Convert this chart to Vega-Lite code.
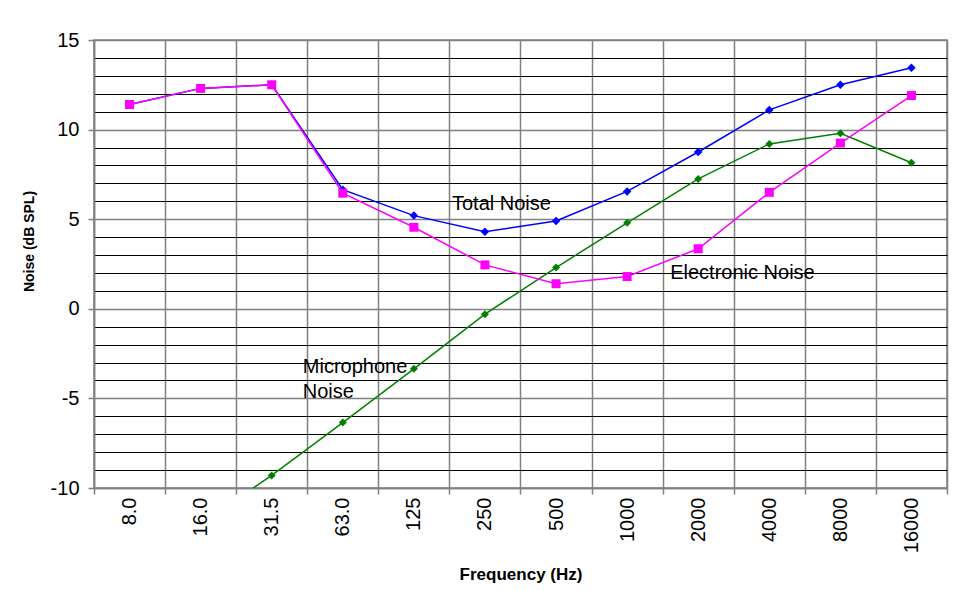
{
  "$schema": "https://vega.github.io/schema/vega-lite/v6.json",
  "width": 853,
  "height": 448,
  "autosize": {"type": "none"},
  "padding": {"left": 94, "top": 40, "right": 8, "bottom": 102},
  "background": "white",
  "config": {
    "font": "Liberation Sans",
    "view": {"stroke": "#808080", "strokeWidth": 1.5}
  },
  "datasets": {
    "noise": [
      {"freq": "8.0", "series": "Microphone Noise", "value": -15.0},
      {"freq": "16.0", "series": "Microphone Noise", "value": -12.0},
      {"freq": "31.5", "series": "Microphone Noise", "value": -9.3},
      {"freq": "63.0", "series": "Microphone Noise", "value": -6.35},
      {"freq": "125", "series": "Microphone Noise", "value": -3.35},
      {"freq": "250", "series": "Microphone Noise", "value": -0.3},
      {"freq": "500", "series": "Microphone Noise", "value": 2.3},
      {"freq": "1000", "series": "Microphone Noise", "value": 4.8},
      {"freq": "2000", "series": "Microphone Noise", "value": 7.25},
      {"freq": "4000", "series": "Microphone Noise", "value": 9.2},
      {"freq": "8000", "series": "Microphone Noise", "value": 9.8},
      {"freq": "16000", "series": "Microphone Noise", "value": 8.15},
      {"freq": "8.0", "series": "Total Noise", "value": 11.4},
      {"freq": "16.0", "series": "Total Noise", "value": 12.3},
      {"freq": "31.5", "series": "Total Noise", "value": 12.5},
      {"freq": "63.0", "series": "Total Noise", "value": 6.65},
      {"freq": "125", "series": "Total Noise", "value": 5.2},
      {"freq": "250", "series": "Total Noise", "value": 4.3},
      {"freq": "500", "series": "Total Noise", "value": 4.9},
      {"freq": "1000", "series": "Total Noise", "value": 6.55},
      {"freq": "2000", "series": "Total Noise", "value": 8.75},
      {"freq": "4000", "series": "Total Noise", "value": 11.1},
      {"freq": "8000", "series": "Total Noise", "value": 12.5},
      {"freq": "16000", "series": "Total Noise", "value": 13.45},
      {"freq": "8.0", "series": "Electronic Noise", "value": 11.4},
      {"freq": "16.0", "series": "Electronic Noise", "value": 12.3},
      {"freq": "31.5", "series": "Electronic Noise", "value": 12.5},
      {"freq": "63.0", "series": "Electronic Noise", "value": 6.45},
      {"freq": "125", "series": "Electronic Noise", "value": 4.55},
      {"freq": "250", "series": "Electronic Noise", "value": 2.45},
      {"freq": "500", "series": "Electronic Noise", "value": 1.4},
      {"freq": "1000", "series": "Electronic Noise", "value": 1.8},
      {"freq": "2000", "series": "Electronic Noise", "value": 3.35},
      {"freq": "4000", "series": "Electronic Noise", "value": 6.5},
      {"freq": "8000", "series": "Electronic Noise", "value": 9.25},
      {"freq": "16000", "series": "Electronic Noise", "value": 11.9}
    ],
    "labels": [
      {"freq": "250", "value": 5.85, "label": "Total Noise"},
      {"freq": "2000", "value": 2.0, "label": "Electronic Noise"},
      {"freq": "63.0", "value": -3.27, "label": ["Microphone", "Noise"]}
    ]
  },
  "layer": [
    {
      "data": {"name": "noise"},
      "mark": {"type": "line", "strokeWidth": 1.5, "clip": true},
      "encoding": {
        "x": {
          "field": "freq",
          "type": "nominal",
          "scale": {
            "type": "band",
            "domain": ["8.0", "16.0", "31.5", "63.0", "125", "250", "500", "1000", "2000", "4000", "8000", "16000"],
            "paddingInner": 0,
            "paddingOuter": 0
          },
          "axis": {
            "title": "Frequency (Hz)",
            "titleFontSize": 17,
            "titleFontWeight": "bold",
            "titleColor": "black",
            "titleX": 426.5,
            "titleY": 86,
            "titleAlign": "center",
            "titleBaseline": "middle",
            "labelAngle": -90,
            "labelAlign": "right",
            "labelBaseline": "middle",
            "labelFontSize": 20,
            "labelColor": "black",
            "labelPadding": 3,
            "labelOverlap": false,
            "tickBand": "extent",
            "grid": true,
            "gridColor": "#808080",
            "gridWidth": 1.5,
            "tickColor": "#808080",
            "tickSize": 6,
            "tickWidth": 1.5,
            "domainColor": "#808080",
            "domainWidth": 1.5
          }
        },
        "y": {
          "field": "value",
          "type": "quantitative",
          "scale": {"domain": [-10, 15], "nice": false, "zero": false},
          "axis": {
            "title": "Noise (dB SPL)",
            "titleFontSize": 14,
            "titleFontWeight": "bold",
            "titleColor": "black",
            "titleX": -65,
            "titleY": 201,
            "titleAngle": -90,
            "titleAlign": "center",
            "titleBaseline": "middle",
            "values": [-10, -9, -8, -7, -6, -5, -4, -3, -2, -1, 0, 1, 2, 3, 4, 5, 6, 7, 8, 9, 10, 11, 12, 13, 14, 15],
            "tickCount": 40,
            "labelExpr": "datum.value % 5 === 0 ? '' + datum.value : ''",
            "labelFontSize": 20,
            "labelColor": "black",
            "labelPadding": 9,
            "labelOverlap": false,
            "labelFlush": false,
            "grid": true,
            "gridColor": {"condition": {"test": "datum.value % 5 === 0", "value": "#808080"}, "value": "#000000"},
            "gridWidth": {"condition": {"test": "datum.value % 5 === 0", "value": 1.5}, "value": 1},
            "tickColor": "#808080",
            "tickOpacity": {"condition": {"test": "datum.value % 5 === 0", "value": 1}, "value": 0},
            "tickSize": 6,
            "tickWidth": 1.5,
            "domainColor": "#808080",
            "domainWidth": 1.5
          }
        },
        "color": {
          "field": "series",
          "type": "nominal",
          "scale": {
            "domain": ["Microphone Noise", "Total Noise", "Electronic Noise"],
            "range": ["#008000", "#0000FF", "#FF00FF"]
          },
          "legend": null
        }
      }
    },
    {
      "data": {"name": "noise"},
      "mark": {"type": "point", "filled": true, "opacity": 1, "clip": true},
      "encoding": {
        "x": {"field": "freq", "type": "nominal"},
        "y": {"field": "value", "type": "quantitative"},
        "color": {"field": "series", "type": "nominal", "legend": null},
        "shape": {
          "field": "series",
          "type": "nominal",
          "scale": {
            "domain": ["Microphone Noise", "Total Noise", "Electronic Noise"],
            "range": ["diamond", "diamond", "square"]
          },
          "legend": null
        },
        "size": {
          "field": "series",
          "type": "nominal",
          "scale": {
            "domain": ["Microphone Noise", "Total Noise", "Electronic Noise"],
            "range": [64, 81, 70]
          },
          "legend": null
        }
      }
    },
    {
      "data": {"name": "labels"},
      "transform": [{"filter": "datum.freq === '250'"}],
      "mark": {"type": "text", "align": "left", "baseline": "middle", "dx": -33, "fontSize": 20, "color": "black"},
      "encoding": {
        "x": {"field": "freq", "type": "nominal"},
        "y": {"field": "value", "type": "quantitative"},
        "text": {"field": "label"}
      }
    },
    {
      "data": {"name": "labels"},
      "transform": [{"filter": "datum.freq === '2000'"}],
      "mark": {"type": "text", "align": "left", "baseline": "middle", "dx": -28, "fontSize": 20, "color": "black"},
      "encoding": {
        "x": {"field": "freq", "type": "nominal"},
        "y": {"field": "value", "type": "quantitative"},
        "text": {"field": "label"}
      }
    },
    {
      "data": {"name": "labels"},
      "transform": [{"filter": "datum.freq === '63.0'"}],
      "mark": {"type": "text", "align": "left", "baseline": "middle", "dx": -40, "fontSize": 20, "lineHeight": 25, "color": "black"},
      "encoding": {
        "x": {"field": "freq", "type": "nominal"},
        "y": {"field": "value", "type": "quantitative"},
        "text": {"field": "label"}
      }
    }
  ]
}
